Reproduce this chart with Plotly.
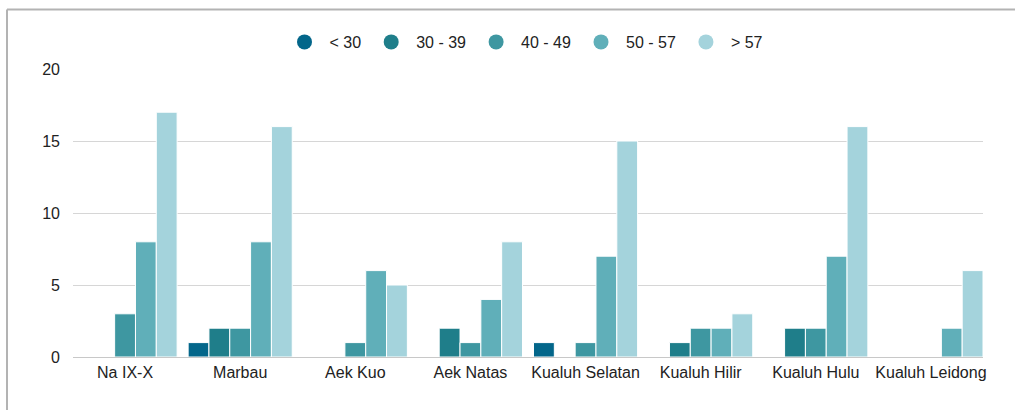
import plotly.graph_objects as go

# categories (kecamatan) and age groups
categories = ['Na IX-X', 'Marbau', 'Aek Kuo', 'Aek Natas', 'Kualuh Selatan',
              'Kualuh Hilir', 'Kualuh Hulu', 'Kualuh Leidong']
age_groups = ['< 30', '30 - 39', '40 - 49', '50 - 57', '> 57']

under_30 = [0, 1, 0, 0, 1, 0, 0, 0]
age_30_39 = [0, 2, 0, 2, 0, 1, 2, 0]
age_40_49 = [3, 2, 1, 1, 1, 2, 2, 0]
age_50_57 = [8, 8, 6, 4, 7, 2, 7, 2]
over_57 = [17, 16, 5, 8, 15, 3, 16, 6]

colors = ['#03668a', '#1f7e8a', '#3e97a1', '#60afb9', '#a4d3dc']

# layout in pixels
W, H = 1015, 410
L, R, T, B = 73, 32, 69, 53
pw, ph = W - L - R, H - T - B
bargap = 0.0957

fig = go.Figure()
series = [under_30, age_30_39, age_40_49, age_50_57, over_57]
for name, vals, col in zip(age_groups, series, colors):
    fig.add_trace(go.Bar(
        x=categories, y=vals, name=name, marker_color=col,
        marker_line=dict(color='white', width=1),
        legendgroup=name, showlegend=False,
    ))
    # circle markers for the legend
    fig.add_trace(go.Scatter(
        x=[None], y=[None], mode='markers', name=name, legendgroup=name,
        marker=dict(color=col, size=15, symbol='circle'),
    ))

# grey frame on top and left, as in the screenshot
def px_x(p):
    return (p - L) / pw

def px_y(p):
    return (H - B - p) / ph

frame = dict(color='#b3b3b3', width=2)
fig.add_shape(type='line', xref='paper', yref='paper',
              x0=px_x(7), x1=px_x(W + 5), y0=px_y(9.5), y1=px_y(9.5), line=frame)
fig.add_shape(type='line', xref='paper', yref='paper',
              x0=px_x(7), x1=px_x(7), y0=px_y(9.5), y1=px_y(H + 5), line=frame)

fig.update_layout(
    width=W, height=H,
    margin=dict(l=L, r=R, t=T, b=B),
    paper_bgcolor='white', plot_bgcolor='white',
    font=dict(family='Liberation Sans, Arial, sans-serif', size=16, color='#222222'),
    barmode='group', bargap=bargap, bargroupgap=0,
    legend=dict(orientation='h', x=px_x(524), xanchor='center', y=px_y(42), yanchor='middle',
                font=dict(size=16), itemsizing='trace', itemwidth=40),
    xaxis=dict(showgrid=False, showline=False, ticks='', tickfont=dict(size=16),
               ticklabelstandoff=4,
               range=[-0.5 + bargap / 2, len(categories) - 0.5 - bargap / 2]),
    yaxis=dict(range=[0, 20], dtick=5, showgrid=True, gridcolor='#d6d6d6', gridwidth=1,
               zeroline=True, zerolinecolor='#c8c8c8', zerolinewidth=1,
               ticks='', ticklabelstandoff=12, tickfont=dict(size=16)),
)

fig.write_html('out.html', config={'displayModeBar': False},
               post_script="document.body.style.margin='0';")
